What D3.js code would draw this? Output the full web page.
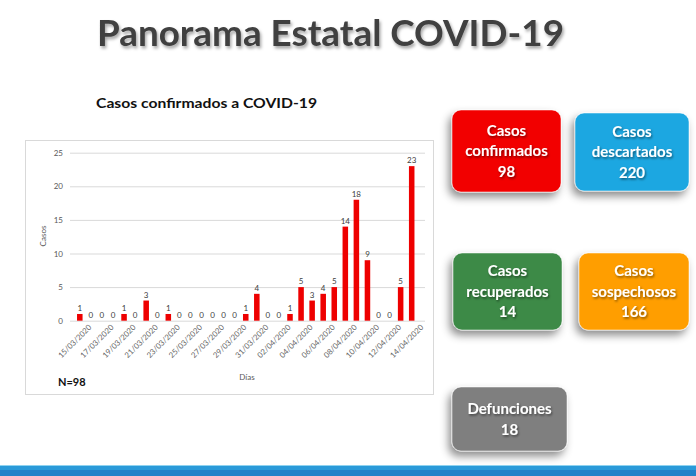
<!DOCTYPE html>
<html>
<head>
<meta charset="utf-8">
<script src="https://cdn.jsdelivr.net/npm/d3@7"></script>
<style>
  html, body { margin: 0; padding: 0; background: #fff; }
  svg { display: block; font-family: Lato, "Open Sans", sans-serif; }
</style>
</head>
<body>
<svg id="chart" width="696" height="476"></svg>
<script>
// daily confirmed cases
const dias = ["15/03/2020","16/03/2020","17/03/2020","18/03/2020","19/03/2020","20/03/2020",
  "21/03/2020","22/03/2020","23/03/2020","24/03/2020","25/03/2020","26/03/2020","27/03/2020",
  "28/03/2020","29/03/2020","30/03/2020","31/03/2020","01/04/2020","02/04/2020","03/04/2020",
  "04/04/2020","05/04/2020","06/04/2020","07/04/2020","08/04/2020","09/04/2020","10/04/2020",
  "11/04/2020","12/04/2020","13/04/2020","14/04/2020"];
const casos = [1,0,0,0,1,0,3,0,1,0,0,0,0,0,0,1,4,0,0,1,5,3,4,5,14,18,9,0,0,5,23];
const diaTicks = dias.filter((d, i) => i % 2 === 0);
const yTicks = [0, 5, 10, 15, 20, 25];

// summary boxes
const boxTitles = [["Casos", "confirmados"], ["Casos", "descartados"], ["Casos", "recuperados"],
  ["Casos", "sospechosos"], ["Defunciones"]];
const boxValues = [98, 220, 14, 166, 18];

const svg = d3.select("#chart");
const defs = svg.append("defs");

const shadow = defs.append("filter").attr("id", "boxShadow")
  .attr("x", "-30%").attr("y", "-30%").attr("width", "160%").attr("height", "170%");
shadow.append("feDropShadow").attr("dx", -3).attr("dy", 5)
  .attr("stdDeviation", 4).attr("flood-color", "#000").attr("flood-opacity", 0.45);

const txtShadow = defs.append("filter").attr("id", "txtShadow")
  .attr("x", "-10%").attr("y", "-20%").attr("width", "120%").attr("height", "150%");
txtShadow.append("feDropShadow").attr("dx", 1).attr("dy", 1.5)
  .attr("stdDeviation", 1).attr("flood-color", "#000").attr("flood-opacity", 0.5);

const titleShadow = defs.append("filter").attr("id", "titleShadow")
  .attr("x", "-5%").attr("y", "-20%").attr("width", "110%").attr("height", "150%");
titleShadow.append("feDropShadow").attr("dx", 1.5).attr("dy", 2.5)
  .attr("stdDeviation", 1.5).attr("flood-color", "#000").attr("flood-opacity", 0.35);

// title
svg.append("text")
  .attr("x", 97).attr("y", 46)
  .attr("textLength", 467).attr("lengthAdjust", "spacingAndGlyphs")
  .attr("font-size", 36).attr("font-weight", 700).attr("fill", "#404040")
  .attr("filter", "url(#titleShadow)")
  .text("Panorama Estatal COVID-19");

svg.append("text")
  .attr("x", 96).attr("y", 108)
  .attr("textLength", 221).attr("lengthAdjust", "spacingAndGlyphs")
  .attr("font-size", 14).attr("font-weight", 700).attr("fill", "#111")
  .text("Casos confirmados a COVID-19");

// chart frame
svg.append("rect")
  .attr("x", 25.5).attr("y", 140.5).attr("width", 408).attr("height", 254)
  .attr("fill", "#fff").attr("stroke", "#d9d9d9");

const x = d3.scaleBand().domain(dias).range([71.5, 420]).padding(0.5);
const y = d3.scaleLinear().domain([0, 25]).range([320.7, 152.7]);

svg.append("g")
  .attr("transform", "translate(70,0)")
  .call(d3.axisLeft(y).tickValues(yTicks).tickSize(-355).tickPadding(7))
  .call(g => g.select(".domain").remove())
  .call(g => g.selectAll("line").attr("stroke", "#d9d9d9"))
  .call(g => g.selectAll("text").attr("fill", "#595959").attr("font-size", 8)
    .attr("font-family", "Lato, sans-serif"));

svg.append("text")
  .attr("transform", "translate(46,236) rotate(-90)")
  .attr("text-anchor", "middle").attr("font-size", 8).attr("fill", "#595959")
  .text("Casos");

svg.append("g")
  .selectAll("rect")
  .data(casos)
  .join("rect")
  .attr("x", (d, i) => x(dias[i]))
  .attr("y", d => y(d))
  .attr("width", x.bandwidth())
  .attr("height", d => y(0) - y(d))
  .attr("fill", "#ee0000");

svg.append("g")
  .selectAll("text")
  .data(casos)
  .join("text")
  .attr("x", (d, i) => x(dias[i]) + x.bandwidth() / 2)
  .attr("y", d => y(d) - 3)
  .attr("text-anchor", "middle")
  .attr("font-size", 8).attr("fill", "#404040")
  .text(d => d);

svg.append("g")
  .attr("transform", `translate(0,${y(0)})`)
  .call(d3.axisBottom(x).tickValues(diaTicks).tickSize(0).tickPadding(5))
  .call(g => g.select(".domain").remove())
  .call(g => g.selectAll("text")
    .attr("fill", "#666").attr("font-size", 7.8).attr("font-family", "Lato, sans-serif")
    .attr("text-anchor", "end")
    .attr("dy", "0.3em")
    .attr("transform", "translate(7,2) rotate(-45)"));

svg.append("text")
  .attr("x", 247).attr("y", 380)
  .attr("text-anchor", "middle").attr("font-size", 8).attr("fill", "#595959")
  .text("Días");

svg.append("text")
  .attr("x", 58).attr("y", 386)
  .attr("font-size", 11).attr("font-weight", 700).attr("fill", "#111")
  .text("N=98");

// summary boxes
const boxFill = ["#f20000", "#1fa7e1", "#3d8a47", "#ff9e00", "#7f7f7f"];
const boxPos = [
  { x: 452, y: 110, w: 109, h: 82 },
  { x: 575, y: 113, w: 114, h: 78 },
  { x: 453, y: 253, w: 109, h: 77 },
  { x: 579, y: 253, w: 110, h: 77 },
  { x: 452, y: 387, w: 115, h: 64 }
];

const boxes = svg.append("g")
  .selectAll("g")
  .data(boxValues)
  .join("g")
  .attr("transform", (d, i) => `translate(${boxPos[i].x},${boxPos[i].y})`);

boxes.append("rect")
  .attr("width", (d, i) => boxPos[i].w)
  .attr("height", (d, i) => boxPos[i].h)
  .attr("rx", 9)
  .attr("fill", (d, i) => boxFill[i])
  .attr("stroke", "rgba(255,255,255,0.5)")
  .attr("filter", "url(#boxShadow)");

boxes.each(function (d, i) {
  const lines = boxTitles[i].concat([String(d)]);
  const lh = 20.5;
  const top = boxPos[i].h / 2 - (lines.length - 1) * lh / 2;
  const t = d3.select(this).append("text")
    .attr("text-anchor", "middle")
    .attr("font-size", 15).attr("font-weight", 700).attr("fill", "#fff")
    .attr("filter", "url(#txtShadow)");
  lines.forEach((s, k) => {
    t.append("tspan")
      .attr("x", boxPos[i].w / 2)
      .attr("y", top + k * lh)
      .attr("dy", "0.35em")
      .text(s);
  });
});

// bottom strip
svg.append("rect").attr("x", 0).attr("y", 465).attr("width", 696).attr("height", 11).attr("fill", "#2282c8");
svg.append("rect").attr("x", 0).attr("y", 465).attr("width", 696).attr("height", 5).attr("fill", "#2a9ad9");
svg.append("rect").attr("x", 0).attr("y", 465).attr("width", 696).attr("height", 1).attr("fill", "#8fd3f0");
</script>
</body>
</html>
